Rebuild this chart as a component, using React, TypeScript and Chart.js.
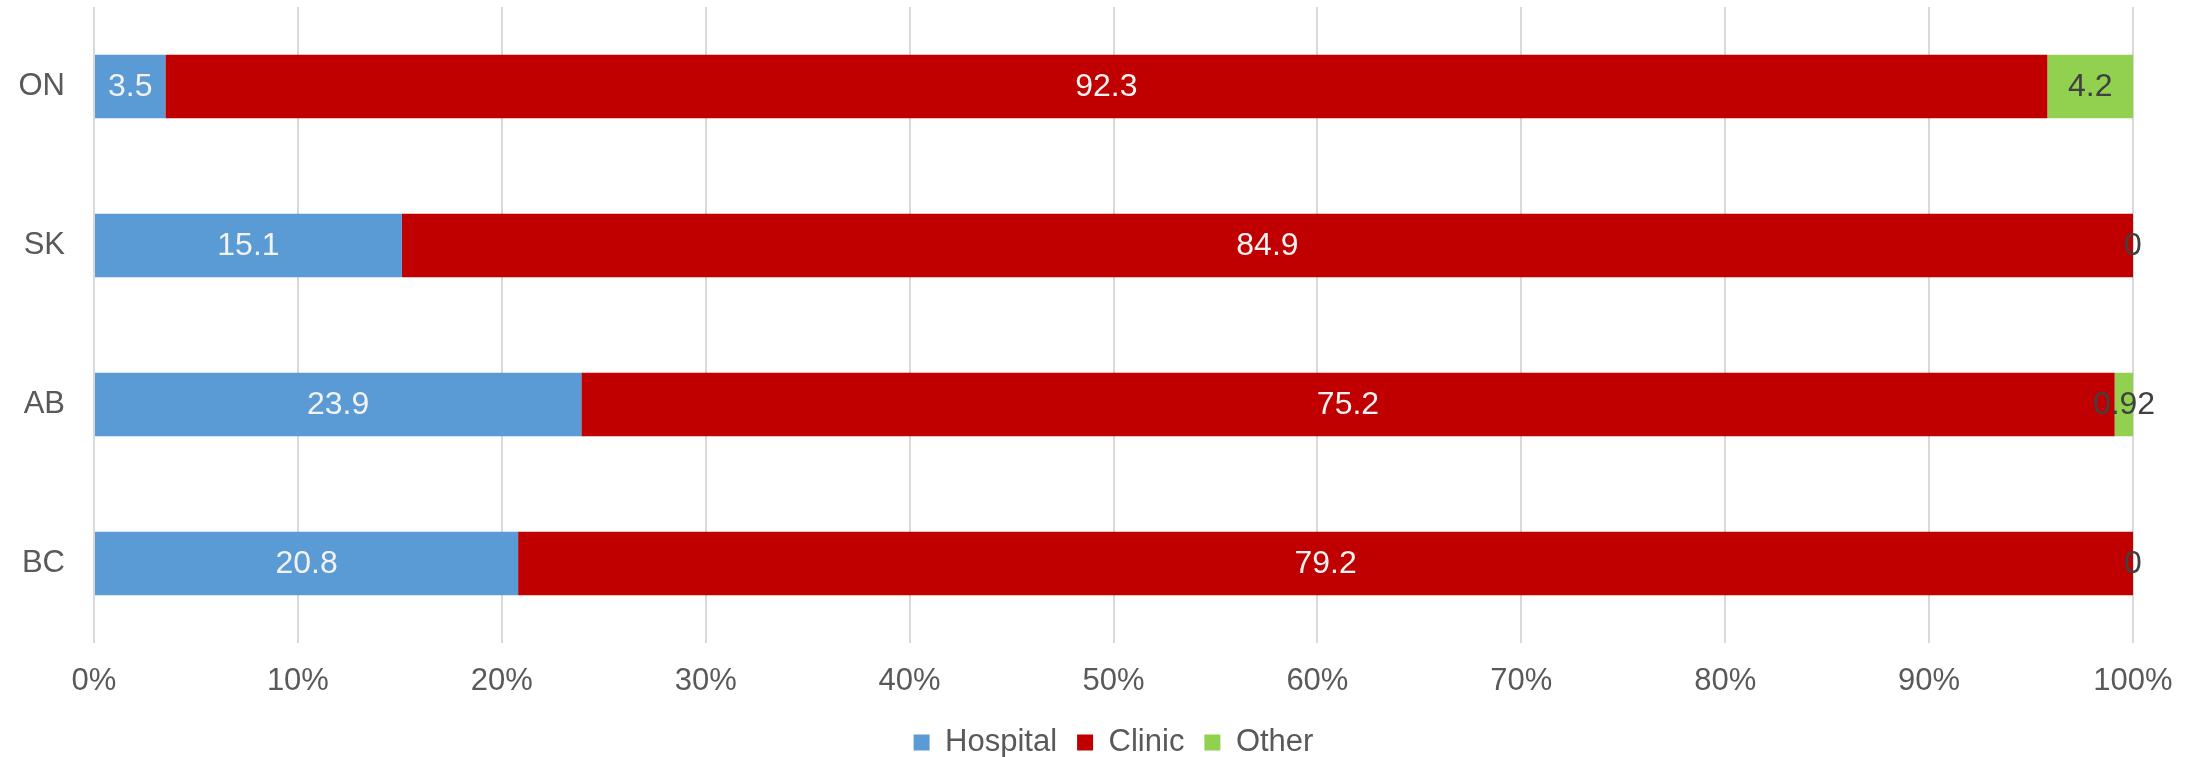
import React, { useEffect, useRef } from "react";
import { Chart, registerables } from "chart.js";

Chart.register(...registerables);

const categories = ["ON", "SK", "AB", "BC"];
const hospital = [3.5, 15.1, 23.9, 20.8];
const clinic = [92.3, 84.9, 75.2, 79.2];
const other = [4.2, 0, 0.92, 0];
const seriesNames = ["Hospital", "Clinic", "Other"];
const seriesColors = ["#5B9BD5", "#C00000", "#92D050"];
const labelColors = ["#F2F2F2", "#F2F2F2", "#404040"];
const xTicks = [0, 10, 20, 30, 40, 50, 60, 70, 80, 90, 100];

const FONT = '"Liberation Sans", Arial, sans-serif';
const TEXT = "#595959";

const valueLabels = {
  id: "valueLabels",
  afterDatasetsDraw(chart: any) {
    const { ctx } = chart;
    ctx.save();
    ctx.font = `32px ${FONT}`;
    ctx.textAlign = "center";
    ctx.textBaseline = "middle";
    chart.data.datasets.forEach((ds: any, i: number) => {
      const meta = chart.getDatasetMeta(i);
      meta.data.forEach((el: any, j: number) => {
        const p = el.getProps(["x", "y", "base"], true);
        ctx.fillStyle = labelColors[i];
        ctx.fillText(String(ds.data[j]), (p.x + p.base) / 2, p.y + 1);
      });
    });
    ctx.restore();
  },
};

export default function App() {
  const ref = useRef<HTMLCanvasElement>(null);
  useEffect(() => {
    document.body.style.margin = "0";
    document.body.style.overflow = "hidden";
    const data = [hospital, clinic, other];
    const chart = new Chart(ref.current!, {
      type: "bar",
      data: {
        labels: categories,
        datasets: seriesNames.map((n, i) => ({
          label: n,
          data: data[i],
          backgroundColor: seriesColors[i],
          borderWidth: 0,
          barPercentage: 0.4,
          categoryPercentage: 1,
        })),
      },
      options: {
        indexAxis: "y",
        responsive: false,
        animation: false,
        devicePixelRatio: 1,
        layout: { padding: { top: 7, right: 68, left: 0, bottom: 0 } },
        scales: {
          x: {
            stacked: true,
            min: 0,
            max: 100,
            afterBuildTicks: (s: any) => {
              s.ticks = xTicks.map((v) => ({ value: v }));
            },
            afterFit: (s: any) => {
              s.height = 64;
            },
            grid: { color: "#D9D9D9", lineWidth: 2, drawTicks: false },
            border: { display: false },
            ticks: {
              padding: 20,
              color: TEXT,
              font: { size: 31, family: FONT },
              callback: (v: any) => v + "%",
            },
          },
          y: {
            stacked: true,
            afterFit: (s: any) => {
              s.width = 94;
              s.paddingTop = 0;
              s.paddingBottom = 0;
            },
            grid: { display: false, drawTicks: false },
            border: { display: false },
            ticks: {
              padding: 29,
              color: TEXT,
              font: { size: 31, family: FONT },
            },
          },
        },
        plugins: {
          legend: {
            position: "bottom",
            fullSize: false,
            labels: {
              boxWidth: 16,
              boxHeight: 16,
              padding: 20,
              color: TEXT,
              font: { size: 31, family: FONT },
            },
          },
          tooltip: { enabled: false },
        },
      },
      plugins: [valueLabels],
    } as any);
    return () => chart.destroy();
  }, []);
  return (
    <div style={{ position: "absolute", left: 0, top: 0, width: 2201, height: 757, overflow: "hidden", background: "#fff" }}>
      <canvas ref={ref} width={2201} height={768} style={{ display: "block" }} />
    </div>
  );
}
